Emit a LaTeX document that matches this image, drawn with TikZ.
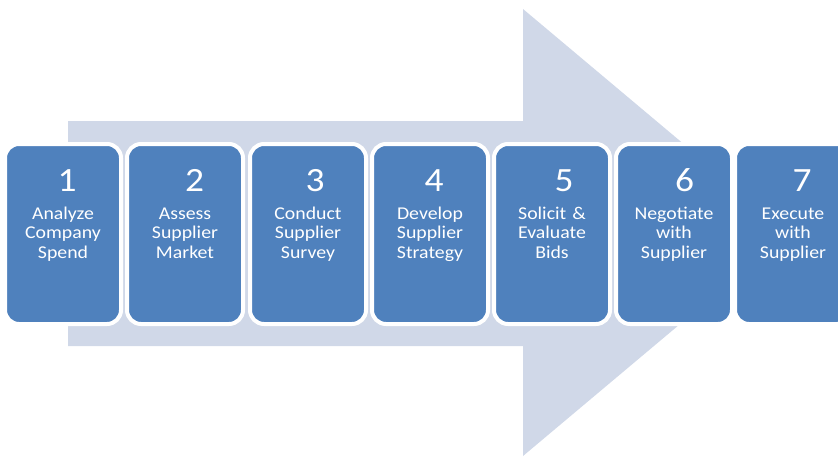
\documentclass[tikz,border=0pt]{standalone}
\usepackage{fontspec}
\setmainfont{Carlito}[FakeStretch=1.1]
\definecolor{boxblue}{HTML}{4F81BD}
\definecolor{arrowfill}{HTML}{D0D8E8}
\begin{document}
\begin{tikzpicture}[x=1pt,y=-1pt,
  stepbox/.style={draw=white, line width=4pt, fill=boxblue, rounded corners=14pt,
    minimum width=116pt, minimum height=180pt, inner sep=0pt, outer sep=0pt},
  stepnum/.style={anchor=base, text=white, inner sep=0pt, font=\fontsize{34}{36}\selectfont},
  steptext/.style={anchor=base, text=white, inner sep=0pt, text width=112pt, align=center,
    font=\fontsize{18}{19.5}\selectfont}]
\useasboundingbox (0,0) rectangle (838,456);
\fill[arrowfill] (68,121) -- (523,121) -- (523,9) -- (789,232.5) -- (523,456) -- (523,346) -- (68,346) -- cycle;
\foreach \i/\L/\off/\txt in {
  1/7/4/{Analyze\\Company\\Spend},
  2/129/9.5/{Assess\\Supplier\\Market},
  3/252/7/{Conduct\\Supplier\\Survey},
  4/374/4/{Develop\\Supplier\\Strategy},
  5/496/12/{Solicit \&\\Evaluate\\Bids},
  6/618/10.5/{Negotiate\\with\\Supplier},
  7/737/9/{Execute\\with\\Supplier}} {
  \node[stepbox] (box\i) at (\L+56,234) {};
  \node[stepnum] (num\i) at (\L+56+\off,191) {\i};
  \node[steptext] (txt\i) at (\L+56,219) {\txt};
}
\end{tikzpicture}
\end{document}
